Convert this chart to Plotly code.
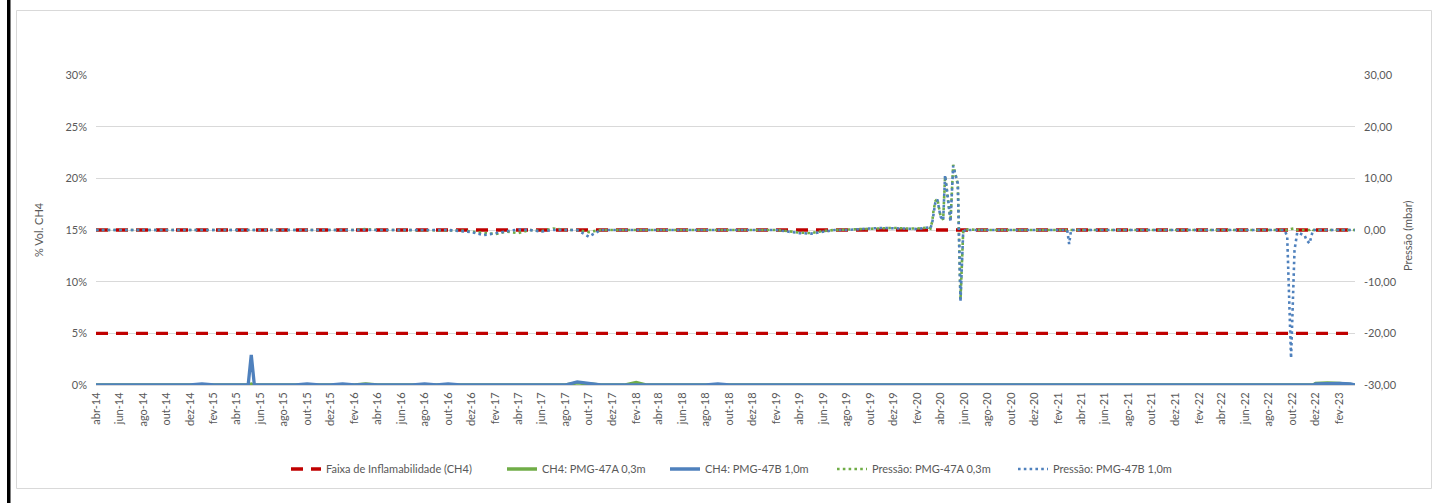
import plotly.graph_objects as go

# Datas de leitura (PMG-47A / PMG-47B)
datas = [
    # 2014
    "2014-04-01", "2014-05-01", "2014-06-01", "2014-07-01", "2014-08-01", "2014-09-01", "2014-10-01", "2014-11-01", "2014-12-01",
    # 2015
    "2015-01-01", "2015-02-01", "2015-03-01", "2015-04-01", "2015-05-01", "2015-05-09", "2015-05-17", "2015-06-01", "2015-07-01",
    "2015-08-01", "2015-09-01", "2015-10-01", "2015-11-01", "2015-12-01",
    # 2016
    "2016-01-01", "2016-02-01", "2016-03-01", "2016-04-01", "2016-05-01", "2016-06-01", "2016-07-01", "2016-08-01", "2016-09-01",
    "2016-10-01", "2016-11-01", "2016-12-01",
    # 2017
    "2017-01-01", "2017-02-01", "2017-03-01", "2017-04-01", "2017-05-01", "2017-06-01", "2017-07-01", "2017-08-01", "2017-09-01",
    "2017-10-01", "2017-11-01", "2017-12-01",
    # 2018
    "2018-01-01", "2018-02-01", "2018-03-01", "2018-04-01", "2018-05-01", "2018-06-01", "2018-07-01", "2018-08-01", "2018-09-01",
    "2018-10-01", "2018-11-01", "2018-12-01",
    # 2019
    "2019-01-01", "2019-02-01", "2019-03-01", "2019-04-01", "2019-05-01", "2019-06-01", "2019-07-01", "2019-08-01", "2019-09-01",
    "2019-10-01", "2019-11-01", "2019-12-01",
    # 2020
    "2020-01-01", "2020-02-01", "2020-03-01", "2020-03-06", "2020-03-11", "2020-03-14", "2020-03-19", "2020-03-24", "2020-04-01",
    "2020-04-08", "2020-04-13", "2020-04-22", "2020-04-27", "2020-05-04", "2020-05-12", "2020-05-16", "2020-05-23", "2020-05-30",
    "2020-06-05", "2020-07-01", "2020-08-01", "2020-09-01", "2020-10-01", "2020-11-01", "2020-12-01",
    # 2021
    "2021-01-01", "2021-02-01", "2021-02-24", "2021-03-01", "2021-03-06", "2021-04-01", "2021-05-01", "2021-06-01", "2021-07-01",
    "2021-08-01", "2021-09-01", "2021-10-01", "2021-11-01", "2021-12-01",
    # 2022
    "2022-01-01", "2022-02-01", "2022-03-01", "2022-04-01", "2022-05-01", "2022-06-01", "2022-07-01", "2022-08-01", "2022-09-01",
    "2022-09-11", "2022-09-18", "2022-09-28", "2022-10-07", "2022-10-14", "2022-11-02", "2022-11-07", "2022-11-15", "2022-11-20",
    "2022-11-24", "2022-12-01",
    # 2023
    "2023-01-01", "2023-02-01", "2023-03-01", "2023-03-13",
]

# CH4 (% vol.)
ch4_pmg47a = [
    0, 0, 0, 0, 0, 0, 0, 0, 0,
    0, 0, 0, 0, 0, 0.1, 0, 0, 0, 0, 0, 0, 0, 0,
    0, 0, 0.1, 0, 0, 0, 0, 0, 0, 0, 0, 0,
    0, 0, 0, 0, 0, 0, 0, 0, 0.2, 0.1, 0, 0,
    0, 0.25, 0, 0, 0, 0, 0, 0, 0, 0, 0, 0,
    0, 0, 0, 0, 0, 0, 0, 0, 0, 0, 0, 0,
    0, 0, 0, 0, 0, 0, 0, 0, 0, 0, 0, 0, 0, 0, 0, 0, 0, 0, 0, 0, 0, 0, 0, 0, 0,
    0, 0, 0, 0, 0, 0, 0, 0, 0, 0, 0, 0, 0, 0,
    0, 0, 0, 0, 0, 0, 0, 0, 0, 0, 0, 0, 0, 0, 0, 0, 0, 0, 0, 0.15,
    0.2, 0.15, 0.05, 0,
]
ch4_pmg47b = [
    0, 0, 0, 0, 0, 0, 0, 0, 0,
    0.1, 0, 0, 0, 0, 2.9, 0, 0, 0, 0, 0, 0.1, 0, 0,
    0.1, 0, 0.05, 0, 0, 0, 0, 0.1, 0, 0.1, 0, 0,
    0, 0, 0, 0, 0, 0, 0, 0, 0.3, 0.15, 0, 0,
    0, 0.05, 0, 0, 0, 0, 0, 0, 0.1, 0, 0, 0,
    0, 0, 0, 0, 0, 0, 0, 0, 0, 0, 0, 0,
    0, 0, 0, 0, 0, 0, 0, 0, 0, 0, 0, 0, 0, 0, 0, 0, 0, 0, 0, 0, 0, 0, 0, 0, 0,
    0, 0, 0, 0, 0, 0, 0, 0, 0, 0, 0, 0, 0, 0,
    0, 0, 0, 0, 0, 0, 0, 0, 0, 0, 0, 0, 0, 0, 0, 0, 0, 0, 0, 0.1,
    0.15, 0.15, 0.1, 0,
]

# Pressão (mbar)
pressao_pmg47a = [
    0, 0, 0.1, 0, 0, 0, 0, 0, 0,
    0, 0, 0, 0, 0, 0, 0, 0, 0, 0, 0.1, 0, 0, 0,
    0, 0, 0.2, 0, 0, 0, 0, 0, 0, 0, -0.1, -0.3,
    -0.6, -0.8, -0.3, -0.6, 0, -0.2, 0.3, 0, 0, -0.4, 0, 0,
    0, 0, 0.1, 0, 0, 0, 0, 0, 0.1, 0, 0, 0,
    0, 0, -0.2, -0.5, -0.6, -0.2, 0, 0.1, 0.2, 0.3, 0.4, 0.4,
    0.3, 0.3, 0.5, 0.3, 1.8, 3.8, 5.6, 6.0, 2.8, 2.0, 10.4, 5.4, 1.8, 12.6, 10.2, 8.8, -13.5, -0.2, 0.1, 0, 0, 0, 0, 0, 0,
    0, 0, 0, 0, 0, 0.1, 0, 0, 0, 0, 0, 0, 0, 0,
    0, 0, 0, 0, 0, 0, 0, 0, 0, 0, 0, 0.2, 0.3, 0, 0.1, 0, 0, 0.3, 0, 0,
    0.1, 0, 0, 0,
]
pressao_pmg47b = [
    0, 0, 0.1, 0, 0, 0, 0, 0, 0,
    0, 0, 0, 0, 0, 0, 0, 0, 0, 0, 0, 0, 0, 0,
    0, 0, 0, 0, 0.1, 0, 0, 0, 0, 0, -0.2, -0.4,
    -1.0, -0.6, -0.2, 0.1, 0, -0.3, 0, 0, 0, -1.3, 0, 0,
    0, 0, 0, 0, 0, 0, 0, 0, 0, 0, 0, 0,
    0, 0, -0.3, -0.6, -0.7, -0.3, 0, 0, 0.2, 0.3, 0.4, 0.3,
    0.3, 0.2, 0.5, 0.3, 1.6, 3.5, 5.5, 5.9, 2.6, 1.9, 10.6, 5.2, 1.6, 12.4, 10.0, 9.0, -13.9, -0.3, 0, 0, 0, 0, 0, 0, 0,
    0, 0, 0, -2.7, 0, 0, 0, 0, 0, 0, 0, 0, 0, 0,
    0, 0, 0, 0, 0, 0, 0, 0, 0, 0, -1.2, -24.8, -3.9, -0.5, -1.0, -1.9, -2.6, -1.2, 0, 0,
    0, 0, 0, 0,
]

# Limites da faixa de inflamabilidade do metano (% vol.)
faixa_inflamabilidade = [5, 15]

# Eixos
meses_pt = ["jan", "fev", "mar", "abr", "mai", "jun", "jul", "ago", "set", "out", "nov", "dez"]
ticks_ch4 = [0, 5, 10, 15, 20, 25, 30]
rotulos_ch4 = ["0%", "5%", "10%", "15%", "20%", "25%", "30%"]
ticks_pressao = [-30, -20, -10, 0, 10, 20, 30]
rotulos_pressao = ["-30,00", "-20,00", "-10,00", "0,00", "10,00", "20,00", "30,00"]

for serie in (ch4_pmg47a, ch4_pmg47b, pressao_pmg47a, pressao_pmg47b):
    assert len(serie) == len(datas)

# rótulos bimestrais do eixo de datas: abr-14 ... fev-23
tick_datas, tick_rotulos = [], []
mes = 3
ano = 2014
while (ano, mes) <= (2023, 1):
    tick_datas.append(f"{ano}-{mes + 1:02d}-01")
    tick_rotulos.append(f"{meses_pt[mes]}-{str(ano)[2:]}")
    mes += 2
    if mes >= 12:
        mes -= 12
        ano += 1

FONTE = "Lato"
CINZA_TEXTO = "#595959"
VERMELHO = "#C00000"
VERDE = "#70AD47"
AZUL = "#4F81BD"

W, H = 1438, 503
PL, PR, PT, PB = 96, 1355, 75, 385  # área de plotagem em pixels


def px_x(px):
    return (px - PL) / (PR - PL)


def px_y(py):
    return (PB - py) / (PB - PT)


fig = go.Figure()

x_ini, x_fim = datas[0], datas[-1]
for i, nivel in enumerate(faixa_inflamabilidade[::-1]):
    fig.add_trace(go.Scatter(
        x=[x_ini, x_fim], y=[nivel, nivel], mode="lines",
        name="Faixa de Inflamabilidade (CH4)", legendgroup="faixa", legend="legend",
        showlegend=(i == 0),
        line=dict(color=VERMELHO, width=3.3, dash="12px,8px"),
        hoverinfo="skip",
    ))

fig.add_trace(go.Scatter(
    x=datas, y=ch4_pmg47a, mode="lines", name="CH4: PMG-47A 0,3m", legend="legend2",
    line=dict(color=VERDE, width=3.3),
))
fig.add_trace(go.Scatter(
    x=datas, y=ch4_pmg47b, mode="lines", name="CH4: PMG-47B 1,0m", legend="legend3",
    line=dict(color=AZUL, width=3.3),
))
fig.add_trace(go.Scatter(
    x=datas, y=pressao_pmg47a, mode="lines", name="Pressão: PMG-47A 0,3m", yaxis="y2",
    legend="legend4",
    line=dict(color=VERDE, width=2.6, dash="2.6px,3.2px"),
))
fig.add_trace(go.Scatter(
    x=datas, y=pressao_pmg47b, mode="lines", name="Pressão: PMG-47B 1,0m", yaxis="y2",
    legend="legend5",
    line=dict(color=AZUL, width=2.6, dash="2.6px,3.2px"),
))

eixo_fonte = dict(family=FONTE, size=11, color=CINZA_TEXTO)

# uma legenda por série, lado a lado sob o gráfico
legenda_x = [291, 507, 670, 837, 1018]
legendas = {}
for k, xl in enumerate(legenda_x):
    nome = "legend" if k == 0 else f"legend{k + 1}"
    legendas[nome] = dict(
        orientation="h", x=px_x(xl - 5), xanchor="left", y=px_y(469), yanchor="middle",
        font=dict(family=FONTE, size=11, color=CINZA_TEXTO),
        bgcolor="rgba(0,0,0,0)", borderwidth=0,
    )

fig.update_layout(
    width=W, height=H,
    margin=dict(l=PL, r=W - PR, t=PT, b=H - PB, pad=0),
    paper_bgcolor="white", plot_bgcolor="white",
    font=eixo_fonte,
    showlegend=True,
    **legendas,
    xaxis=dict(
        type="date", range=[x_ini, x_fim],
        tickvals=tick_datas, ticktext=tick_rotulos, tickangle=-90,
        tickfont=eixo_fonte, showgrid=False, zeroline=False,
        showline=True, linecolor="#D9D9D9", linewidth=1,
        ticks="", ticklabelstandoff=2,
    ),
    yaxis=dict(
        range=[0, 30], tickvals=ticks_ch4, ticktext=rotulos_ch4,
        tickfont=eixo_fonte, showgrid=True, gridcolor="#D9D9D9", gridwidth=1,
        zeroline=False, showline=False, ticks="", ticklabelstandoff=8,
    ),
    yaxis2=dict(
        range=[-30, 30], tickvals=ticks_pressao, ticktext=rotulos_pressao,
        overlaying="y", side="right", tickfont=eixo_fonte,
        showgrid=False, zeroline=False, showline=False, ticks="", ticklabelstandoff=8,
    ),
    annotations=[
        dict(text="% Vol. CH4", xref="paper", yref="paper", x=px_x(38), y=px_y(230),
             xanchor="center", yanchor="middle", textangle=-90, showarrow=False,
             font=dict(family=FONTE, size=11, color=CINZA_TEXTO)),
        dict(text="Pressão (mbar)", xref="paper", yref="paper", x=px_x(1408), y=px_y(236),
             xanchor="center", yanchor="middle", textangle=-90, showarrow=False,
             font=dict(family=FONTE, size=11, color=CINZA_TEXTO)),
    ],
    shapes=[
        # moldura do gráfico
        dict(type="rect", xref="paper", yref="paper", layer="below",
             x0=px_x(16.5), x1=px_x(1431.5), y0=px_y(488.5), y1=px_y(10.5),
             line=dict(color="#D9D9D9", width=1), fillcolor="rgba(0,0,0,0)"),
        # barra lateral da página
        dict(type="rect", xref="paper", yref="paper", layer="above",
             x0=px_x(7), x1=px_x(10.5), y0=px_y(H + 5), y1=px_y(-5),
             line=dict(width=0), fillcolor="black"),
    ],
)

fig.write_html("out.html")
